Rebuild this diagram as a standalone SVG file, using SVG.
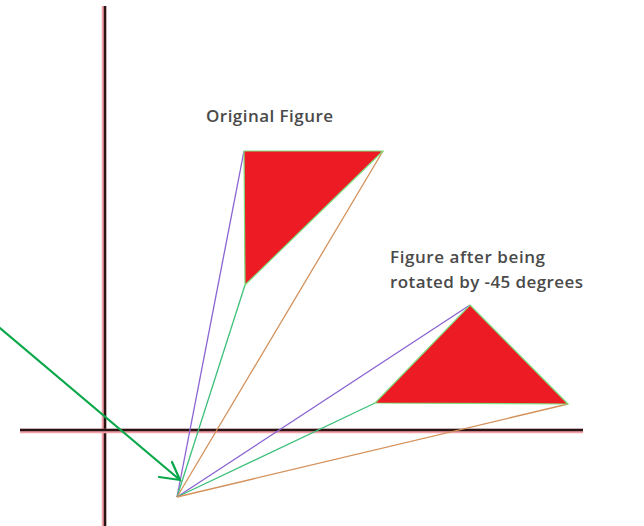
<svg xmlns="http://www.w3.org/2000/svg" width="644" height="526" viewBox="0 0 644 526">
<style>
.axis{stroke:#2a1414;stroke-width:2.5;fill:none}
.axisglow{stroke:#f4a0a8;stroke-width:4.5;fill:none}
.tri{fill:#ed1c24;stroke:#7ee07e;stroke-width:1.2}
.purple{stroke:#8a63d2;stroke-width:1.3;fill:none}
.green{stroke:#3cc07a;stroke-width:1.3;fill:none}
.orange{stroke:#d4915a;stroke-width:1.3;fill:none}
.label{font-family:"Open Sans","Liberation Sans",sans-serif;font-size:17px;font-weight:600;fill:#4a4a4a}
.arrow{stroke:#0aa84a;stroke-width:2.2;fill:none;stroke-linecap:round}
</style>
<rect width="644" height="526" fill="#ffffff"/>
<g id="axes">
<line class="axisglow" x1="104" y1="6" x2="104" y2="526"/>
<line class="axis" x1="105" y1="6" x2="105" y2="526"/>
<line class="axisglow" x1="20" y1="431" x2="583" y2="431"/>
<line class="axis" x1="20" y1="430" x2="583" y2="430"/>
</g>
<g id="connectors">
<line class="purple" x1="177" y1="497" x2="244" y2="151"/>
<line class="green" x1="177" y1="497" x2="245" y2="285"/>
<line class="orange" x1="177" y1="497" x2="383" y2="151"/>
<line class="purple" x1="177" y1="497" x2="470" y2="305"/>
<line class="green" x1="177" y1="497" x2="375" y2="403"/>
<line class="orange" x1="177" y1="497" x2="568" y2="404"/>
<path class="arrow" d="M0,328 L180,480 M159,477 L180,480 L172,462"/>
</g>
<g id="original">
<polygon class="tri" points="244,151 383,151 245,285"/>
<text class="label" x="206" y="122" textLength="127">Original Figure</text>
</g>
<g id="rotated">
<polygon class="tri" points="470,305 568,404 375,403"/>
<text class="label" x="390" y="263" textLength="155">Figure after being</text>
<text class="label" x="390" y="288" textLength="193">rotated by -45 degrees</text>
</g>
</svg>
